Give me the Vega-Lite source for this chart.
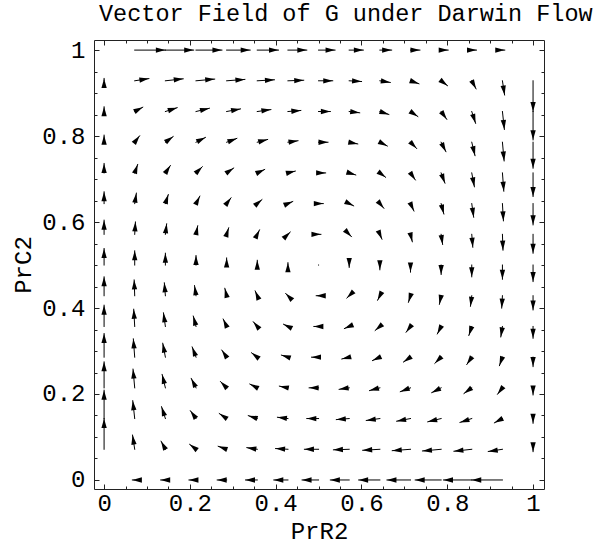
{
"$schema": "https://vega.github.io/schema/vega-lite/v6.json",
"width": 450, "height": 449,
"autosize": {"type": "none"},
"padding": {"left": 94, "top": 40, "right": 55, "bottom": 57},
"background": "white",
"config": {"view": {"stroke": null}, "axis": {"grid": false, "labelFont": "Liberation Mono", "titleFont": "Liberation Mono", "labelColor": "#000", "titleColor": "#000", "domainColor": "#222", "tickColor": "#222", "labelFontSize": 24, "titleFontSize": 24, "titleFontWeight": "normal"}},
"title": {"text": "Vector Field of G under Darwin Flow", "font": "Liberation Mono", "fontSize": 23.5, "fontWeight": "normal", "color": "#000", "anchor": "start", "frame": "group", "dx": 5, "offset": 13},
"data": {"values": [
{"x":0.0714,"y":0,"u":-0.071,"v":0},{"x":0.1429,"y":0,"u":-0.143,"v":0},{"x":0.2143,"y":0,"u":-0.214,"v":0},{"x":0.2857,"y":0,"u":-0.286,"v":0},{"x":0.3571,"y":0,"u":-0.357,"v":0},{"x":0.4286,"y":0,"u":-0.429,"v":0},{"x":0.5,"y":0,"u":-0.5,"v":0},{"x":0.5714,"y":0,"u":-0.571,"v":0},{"x":0.6429,"y":0,"u":-0.643,"v":0},{"x":0.7143,"y":0,"u":-0.714,"v":0},{"x":0.7857,"y":0,"u":-0.786,"v":0},{"x":0.8571,"y":0,"u":-0.857,"v":0},{"x":0.9286,"y":0,"u":-0.929,"v":0},
{"x":0,"y":0.0714,"u":0,"v":0.929},{"x":0.0714,"y":0.0714,"u":-0.066,"v":0.429},{"x":0.1429,"y":0.0714,"u":-0.13,"v":0.244},{"x":0.2143,"y":0.0714,"u":-0.194,"v":0.149},{"x":0.2857,"y":0.0714,"u":-0.256,"v":0.09},{"x":0.3571,"y":0.0714,"u":-0.316,"v":0.05},{"x":0.4286,"y":0.0714,"u":-0.374,"v":0.022},{"x":0.5,"y":0.0714,"u":-0.429,"v":0},{"x":0.5714,"y":0.0714,"u":-0.478,"v":-0.017},{"x":0.6429,"y":0.0714,"u":-0.521,"v":-0.03},{"x":0.7143,"y":0.0714,"u":-0.553,"v":-0.042},{"x":0.7857,"y":0.0714,"u":-0.566,"v":-0.051},{"x":0.8571,"y":0.0714,"u":-0.541,"v":-0.059},{"x":0.9286,"y":0.0714,"u":-0.429,"v":-0.066},{"x":1,"y":0.0714,"u":0,"v":-0.071},
{"x":0,"y":0.1429,"u":0,"v":0.857},{"x":0.0714,"y":0.1429,"u":-0.059,"v":0.541},{"x":0.1429,"y":0.1429,"u":-0.116,"v":0.357},{"x":0.2143,"y":0.1429,"u":-0.171,"v":0.237},{"x":0.2857,"y":0.1429,"u":-0.223,"v":0.151},{"x":0.3571,"y":0.1429,"u":-0.272,"v":0.088},{"x":0.4286,"y":0.1429,"u":-0.318,"v":0.039},{"x":0.5,"y":0.1429,"u":-0.357,"v":0},{"x":0.5714,"y":0.1429,"u":-0.39,"v":-0.032},{"x":0.6429,"y":0.1429,"u":-0.412,"v":-0.058},{"x":0.7143,"y":0.1429,"u":-0.42,"v":-0.08},{"x":0.7857,"y":0.1429,"u":-0.406,"v":-0.099},{"x":0.8571,"y":0.1429,"u":-0.357,"v":-0.116},{"x":0.9286,"y":0.1429,"u":-0.244,"v":-0.13},{"x":1,"y":0.1429,"u":0,"v":-0.143},
{"x":0,"y":0.2143,"u":0,"v":0.786},{"x":0.0714,"y":0.2143,"u":-0.051,"v":0.566},{"x":0.1429,"y":0.2143,"u":-0.099,"v":0.406},{"x":0.2143,"y":0.2143,"u":-0.145,"v":0.286},{"x":0.2857,"y":0.2143,"u":-0.187,"v":0.191},{"x":0.3571,"y":0.2143,"u":-0.226,"v":0.115},{"x":0.4286,"y":0.2143,"u":-0.259,"v":0.052},{"x":0.5,"y":0.2143,"u":-0.286,"v":0},{"x":0.5714,"y":0.2143,"u":-0.305,"v":-0.045},{"x":0.6429,"y":0.2143,"u":-0.314,"v":-0.083},{"x":0.7143,"y":0.2143,"u":-0.309,"v":-0.116},{"x":0.7857,"y":0.2143,"u":-0.286,"v":-0.145},{"x":0.8571,"y":0.2143,"u":-0.237,"v":-0.171},{"x":0.9286,"y":0.2143,"u":-0.149,"v":-0.194},{"x":1,"y":0.2143,"u":0,"v":-0.214},
{"x":0,"y":0.2857,"u":0,"v":0.714},{"x":0.0714,"y":0.2857,"u":-0.042,"v":0.553},{"x":0.1429,"y":0.2857,"u":-0.08,"v":0.42},{"x":0.2143,"y":0.2857,"u":-0.116,"v":0.309},{"x":0.2857,"y":0.2857,"u":-0.148,"v":0.214},{"x":0.3571,"y":0.2857,"u":-0.175,"v":0.133},{"x":0.4286,"y":0.2857,"u":-0.198,"v":0.062},{"x":0.5,"y":0.2857,"u":-0.214,"v":0},{"x":0.5714,"y":0.2857,"u":-0.224,"v":-0.055},{"x":0.6429,"y":0.2857,"u":-0.224,"v":-0.104},{"x":0.7143,"y":0.2857,"u":-0.214,"v":-0.148},{"x":0.7857,"y":0.2857,"u":-0.191,"v":-0.187},{"x":0.8571,"y":0.2857,"u":-0.151,"v":-0.223},{"x":0.9286,"y":0.2857,"u":-0.09,"v":-0.256},{"x":1,"y":0.2857,"u":0,"v":-0.286},
{"x":0,"y":0.3571,"u":0,"v":0.643},{"x":0.0714,"y":0.3571,"u":-0.03,"v":0.521},{"x":0.1429,"y":0.3571,"u":-0.058,"v":0.412},{"x":0.2143,"y":0.3571,"u":-0.083,"v":0.314},{"x":0.2857,"y":0.3571,"u":-0.104,"v":0.224},{"x":0.3571,"y":0.3571,"u":-0.121,"v":0.143},{"x":0.4286,"y":0.3571,"u":-0.135,"v":0.068},{"x":0.5,"y":0.3571,"u":-0.143,"v":0},{"x":0.5714,"y":0.3571,"u":-0.146,"v":-0.063},{"x":0.6429,"y":0.3571,"u":-0.143,"v":-0.121},{"x":0.7143,"y":0.3571,"u":-0.133,"v":-0.175},{"x":0.7857,"y":0.3571,"u":-0.115,"v":-0.226},{"x":0.8571,"y":0.3571,"u":-0.088,"v":-0.272},{"x":0.9286,"y":0.3571,"u":-0.05,"v":-0.316},{"x":1,"y":0.3571,"u":0,"v":-0.357},
{"x":0,"y":0.4286,"u":0,"v":0.571},{"x":0.0714,"y":0.4286,"u":-0.017,"v":0.478},{"x":0.1429,"y":0.4286,"u":-0.032,"v":0.39},{"x":0.2143,"y":0.4286,"u":-0.045,"v":0.305},{"x":0.2857,"y":0.4286,"u":-0.055,"v":0.224},{"x":0.3571,"y":0.4286,"u":-0.063,"v":0.146},{"x":0.4286,"y":0.4286,"u":-0.069,"v":0.071},{"x":0.5,"y":0.4286,"u":-0.071,"v":0},{"x":0.5714,"y":0.4286,"u":-0.071,"v":-0.069},{"x":0.6429,"y":0.4286,"u":-0.068,"v":-0.135},{"x":0.7143,"y":0.4286,"u":-0.062,"v":-0.198},{"x":0.7857,"y":0.4286,"u":-0.052,"v":-0.259},{"x":0.8571,"y":0.4286,"u":-0.039,"v":-0.318},{"x":0.9286,"y":0.4286,"u":-0.022,"v":-0.374},{"x":1,"y":0.4286,"u":0,"v":-0.429},
{"x":0,"y":0.5,"u":0,"v":0.5},{"x":0.0714,"y":0.5,"u":0,"v":0.429},{"x":0.1429,"y":0.5,"u":0,"v":0.357},{"x":0.2143,"y":0.5,"u":0,"v":0.286},{"x":0.2857,"y":0.5,"u":0,"v":0.214},{"x":0.3571,"y":0.5,"u":0,"v":0.143},{"x":0.4286,"y":0.5,"u":0,"v":0.071},{"x":0.5,"y":0.5,"u":0,"v":0},{"x":0.5714,"y":0.5,"u":0,"v":-0.071},{"x":0.6429,"y":0.5,"u":0,"v":-0.143},{"x":0.7143,"y":0.5,"u":0,"v":-0.214},{"x":0.7857,"y":0.5,"u":0,"v":-0.286},{"x":0.8571,"y":0.5,"u":0,"v":-0.357},{"x":0.9286,"y":0.5,"u":0,"v":-0.429},{"x":1,"y":0.5,"u":0,"v":-0.5},
{"x":0,"y":0.5714,"u":0,"v":0.429},{"x":0.0714,"y":0.5714,"u":0.022,"v":0.374},{"x":0.1429,"y":0.5714,"u":0.039,"v":0.318},{"x":0.2143,"y":0.5714,"u":0.052,"v":0.259},{"x":0.2857,"y":0.5714,"u":0.062,"v":0.198},{"x":0.3571,"y":0.5714,"u":0.068,"v":0.135},{"x":0.4286,"y":0.5714,"u":0.071,"v":0.069},{"x":0.5,"y":0.5714,"u":0.071,"v":0},{"x":0.5714,"y":0.5714,"u":0.069,"v":-0.071},{"x":0.6429,"y":0.5714,"u":0.063,"v":-0.146},{"x":0.7143,"y":0.5714,"u":0.055,"v":-0.224},{"x":0.7857,"y":0.5714,"u":0.045,"v":-0.305},{"x":0.8571,"y":0.5714,"u":0.032,"v":-0.39},{"x":0.9286,"y":0.5714,"u":0.017,"v":-0.478},{"x":1,"y":0.5714,"u":0,"v":-0.571},
{"x":0,"y":0.6429,"u":0,"v":0.357},{"x":0.0714,"y":0.6429,"u":0.05,"v":0.316},{"x":0.1429,"y":0.6429,"u":0.088,"v":0.272},{"x":0.2143,"y":0.6429,"u":0.115,"v":0.226},{"x":0.2857,"y":0.6429,"u":0.133,"v":0.175},{"x":0.3571,"y":0.6429,"u":0.143,"v":0.121},{"x":0.4286,"y":0.6429,"u":0.146,"v":0.063},{"x":0.5,"y":0.6429,"u":0.143,"v":0},{"x":0.5714,"y":0.6429,"u":0.135,"v":-0.068},{"x":0.6429,"y":0.6429,"u":0.121,"v":-0.143},{"x":0.7143,"y":0.6429,"u":0.104,"v":-0.224},{"x":0.7857,"y":0.6429,"u":0.083,"v":-0.314},{"x":0.8571,"y":0.6429,"u":0.058,"v":-0.412},{"x":0.9286,"y":0.6429,"u":0.03,"v":-0.521},{"x":1,"y":0.6429,"u":0,"v":-0.643},
{"x":0,"y":0.7143,"u":0,"v":0.286},{"x":0.0714,"y":0.7143,"u":0.09,"v":0.256},{"x":0.1429,"y":0.7143,"u":0.151,"v":0.223},{"x":0.2143,"y":0.7143,"u":0.191,"v":0.187},{"x":0.2857,"y":0.7143,"u":0.214,"v":0.148},{"x":0.3571,"y":0.7143,"u":0.224,"v":0.104},{"x":0.4286,"y":0.7143,"u":0.224,"v":0.055},{"x":0.5,"y":0.7143,"u":0.214,"v":0},{"x":0.5714,"y":0.7143,"u":0.198,"v":-0.062},{"x":0.6429,"y":0.7143,"u":0.175,"v":-0.133},{"x":0.7143,"y":0.7143,"u":0.148,"v":-0.214},{"x":0.7857,"y":0.7143,"u":0.116,"v":-0.309},{"x":0.8571,"y":0.7143,"u":0.08,"v":-0.42},{"x":0.9286,"y":0.7143,"u":0.042,"v":-0.553},{"x":1,"y":0.7143,"u":0,"v":-0.714},
{"x":0,"y":0.7857,"u":0,"v":0.214},{"x":0.0714,"y":0.7857,"u":0.149,"v":0.194},{"x":0.1429,"y":0.7857,"u":0.237,"v":0.171},{"x":0.2143,"y":0.7857,"u":0.286,"v":0.145},{"x":0.2857,"y":0.7857,"u":0.309,"v":0.116},{"x":0.3571,"y":0.7857,"u":0.314,"v":0.083},{"x":0.4286,"y":0.7857,"u":0.305,"v":0.045},{"x":0.5,"y":0.7857,"u":0.286,"v":0},{"x":0.5714,"y":0.7857,"u":0.259,"v":-0.052},{"x":0.6429,"y":0.7857,"u":0.226,"v":-0.115},{"x":0.7143,"y":0.7857,"u":0.187,"v":-0.191},{"x":0.7857,"y":0.7857,"u":0.145,"v":-0.286},{"x":0.8571,"y":0.7857,"u":0.099,"v":-0.406},{"x":0.9286,"y":0.7857,"u":0.051,"v":-0.566},{"x":1,"y":0.7857,"u":0,"v":-0.786},
{"x":0,"y":0.8571,"u":0,"v":0.143},{"x":0.0714,"y":0.8571,"u":0.244,"v":0.13},{"x":0.1429,"y":0.8571,"u":0.357,"v":0.116},{"x":0.2143,"y":0.8571,"u":0.406,"v":0.099},{"x":0.2857,"y":0.8571,"u":0.42,"v":0.08},{"x":0.3571,"y":0.8571,"u":0.412,"v":0.058},{"x":0.4286,"y":0.8571,"u":0.39,"v":0.032},{"x":0.5,"y":0.8571,"u":0.357,"v":0},{"x":0.5714,"y":0.8571,"u":0.318,"v":-0.039},{"x":0.6429,"y":0.8571,"u":0.272,"v":-0.088},{"x":0.7143,"y":0.8571,"u":0.223,"v":-0.151},{"x":0.7857,"y":0.8571,"u":0.171,"v":-0.237},{"x":0.8571,"y":0.8571,"u":0.116,"v":-0.357},{"x":0.9286,"y":0.8571,"u":0.059,"v":-0.541},{"x":1,"y":0.8571,"u":0,"v":-0.857},
{"x":0,"y":0.9286,"u":0,"v":0.071},{"x":0.0714,"y":0.9286,"u":0.429,"v":0.066},{"x":0.1429,"y":0.9286,"u":0.541,"v":0.059},{"x":0.2143,"y":0.9286,"u":0.566,"v":0.051},{"x":0.2857,"y":0.9286,"u":0.553,"v":0.042},{"x":0.3571,"y":0.9286,"u":0.521,"v":0.03},{"x":0.4286,"y":0.9286,"u":0.478,"v":0.017},{"x":0.5,"y":0.9286,"u":0.429,"v":0},{"x":0.5714,"y":0.9286,"u":0.374,"v":-0.022},{"x":0.6429,"y":0.9286,"u":0.316,"v":-0.05},{"x":0.7143,"y":0.9286,"u":0.256,"v":-0.09},{"x":0.7857,"y":0.9286,"u":0.194,"v":-0.149},{"x":0.8571,"y":0.9286,"u":0.13,"v":-0.244},{"x":0.9286,"y":0.9286,"u":0.066,"v":-0.429},{"x":1,"y":0.9286,"u":0,"v":-0.929},
{"x":0.0714,"y":1,"u":0.929,"v":0},{"x":0.1429,"y":1,"u":0.857,"v":0},{"x":0.2143,"y":1,"u":0.786,"v":0},{"x":0.2857,"y":1,"u":0.714,"v":0},{"x":0.3571,"y":1,"u":0.643,"v":0},{"x":0.4286,"y":1,"u":0.571,"v":0},{"x":0.5,"y":1,"u":0.5,"v":0},{"x":0.5714,"y":1,"u":0.429,"v":0},{"x":0.6429,"y":1,"u":0.357,"v":0},{"x":0.7143,"y":1,"u":0.286,"v":0},{"x":0.7857,"y":1,"u":0.214,"v":0},{"x":0.8571,"y":1,"u":0.143,"v":0},{"x":0.9286,"y":1,"u":0.071,"v":0}
]},
"transform": [
{"calculate": "datum.x + datum.u / 13", "as": "xe"},
{"calculate": "datum.y + datum.v / 13", "as": "ye"},
{"calculate": "-atan2(datum.v, datum.u) * 180 / PI", "as": "ang"}
],
"resolve": {"axis": {"x": "independent", "y": "independent"}},
"layer": [
{"mark": {"type": "rule", "color": "#000", "strokeWidth": 1, "strokeCap": "square"},
 "encoding": {
  "x": {"field": "x", "type": "quantitative", "scale": {"domain": [-0.0235, 1.0255], "nice": false, "zero": false},
        "axis": {"orient": "bottom", "values": [0, 0.2, 0.4, 0.6, 0.8, 1], "format": "~g", "ticks": false, "domain": true, "domainWidth": 1, "labelPadding": 2, "labelFlush": false, "labelOverlap": false, "title": "PrR2", "titlePadding": 4}},
  "y": {"field": "y", "type": "quantitative", "scale": {"domain": [-0.021, 1.0235], "nice": false, "zero": false},
        "axis": {"orient": "left", "values": [0, 0.2, 0.4, 0.6, 0.8, 1], "format": "~g", "ticks": false, "domain": true, "domainWidth": 1, "labelPadding": 9, "labelFlush": false, "labelOverlap": false, "title": "PrC2", "titlePadding": 6}},
  "x2": {"field": "xe"},
  "y2": {"field": "ye"}
 }},
{"transform": [{"filter": "datum.u != 0 || datum.v != 0"}],
 "mark": {"type": "point", "shape": "M0,0L-1,-0.28L-1,0.28Z", "size": 361, "filled": true, "color": "#000", "opacity": 1, "strokeWidth": 0},
 "encoding": {
  "x": {"field": "xe", "type": "quantitative", "scale": {"domain": [-0.0235, 1.0255], "nice": false, "zero": false},
        "axis": {"orient": "bottom", "values": [0, 0.2, 0.4, 0.6, 0.8, 1], "labels": false, "domain": false, "ticks": true, "tickSize": -5, "tickWidth": 1, "title": null}},
  "y": {"field": "ye", "type": "quantitative", "scale": {"domain": [-0.021, 1.0235], "nice": false, "zero": false},
        "axis": {"orient": "left", "values": [0, 0.2, 0.4, 0.6, 0.8, 1], "labels": false, "domain": false, "ticks": true, "tickSize": -5, "tickWidth": 1, "title": null}},
  "angle": {"field": "ang", "type": "quantitative", "scale": null}
 }},
{"mark": {"type": "point", "opacity": 0},
 "encoding": {
  "x": {"field": "x", "type": "quantitative", "scale": {"domain": [-0.0235, 1.0255], "nice": false, "zero": false},
        "axis": {"orient": "top", "values": [0, 0.2, 0.4, 0.6, 0.8, 1], "labels": false, "domain": true, "domainWidth": 1, "ticks": true, "tickSize": -5, "tickWidth": 1, "title": null}},
  "y": {"field": "y", "type": "quantitative", "scale": {"domain": [-0.021, 1.0235], "nice": false, "zero": false},
        "axis": {"orient": "right", "values": [0, 0.2, 0.4, 0.6, 0.8, 1], "labels": false, "domain": true, "domainWidth": 1, "ticks": true, "tickSize": -5, "tickWidth": 1, "title": null}}
 }},
{"mark": {"type": "point", "opacity": 0},
 "encoding": {
  "x": {"field": "x", "type": "quantitative", "scale": {"domain": [-0.0235, 1.0255], "nice": false, "zero": false},
        "axis": {"orient": "bottom", "values": [0.05, 0.1, 0.15, 0.25, 0.3, 0.35, 0.45, 0.5, 0.55, 0.65, 0.7, 0.75, 0.85, 0.9, 0.95], "labels": false, "domain": false, "ticks": true, "tickSize": -3, "tickWidth": 1, "title": null}},
  "y": {"field": "y", "type": "quantitative", "scale": {"domain": [-0.021, 1.0235], "nice": false, "zero": false},
        "axis": {"orient": "left", "values": [0.05, 0.1, 0.15, 0.25, 0.3, 0.35, 0.45, 0.5, 0.55, 0.65, 0.7, 0.75, 0.85, 0.9, 0.95], "labels": false, "domain": false, "ticks": true, "tickSize": -3, "tickWidth": 1, "title": null}}
 }},
{"mark": {"type": "point", "opacity": 0},
 "encoding": {
  "x": {"field": "x", "type": "quantitative", "scale": {"domain": [-0.0235, 1.0255], "nice": false, "zero": false},
        "axis": {"orient": "top", "values": [0.05, 0.1, 0.15, 0.25, 0.3, 0.35, 0.45, 0.5, 0.55, 0.65, 0.7, 0.75, 0.85, 0.9, 0.95], "labels": false, "domain": false, "ticks": true, "tickSize": -3, "tickWidth": 1, "title": null}},
  "y": {"field": "y", "type": "quantitative", "scale": {"domain": [-0.021, 1.0235], "nice": false, "zero": false},
        "axis": {"orient": "right", "values": [0.05, 0.1, 0.15, 0.25, 0.3, 0.35, 0.45, 0.5, 0.55, 0.65, 0.7, 0.75, 0.85, 0.9, 0.95], "labels": false, "domain": false, "ticks": true, "tickSize": -3, "tickWidth": 1, "title": null}}
 }}
]
}
